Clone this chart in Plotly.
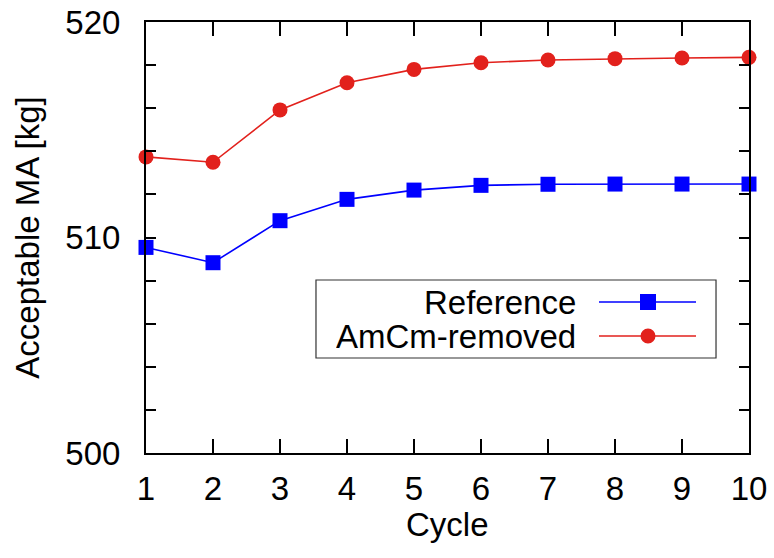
import plotly.graph_objects as go

cycles = [1, 2, 3, 4, 5, 6, 7, 8, 9, 10]
reference = [509.54, 508.83, 510.78, 511.77, 512.20, 512.42, 512.47, 512.48, 512.48, 512.48]
amcm_removed = [513.74, 513.49, 515.92, 517.18, 517.80, 518.11, 518.24, 518.30, 518.33, 518.36]
series_names = ["Reference", "AmCm-removed"]
y_ticks = [500, 510, 520]

BLUE = "#0000ff"
RED = "#e2211c"
FONT = "Liberation Sans, Arial, sans-serif"
FS = 33

fig = go.Figure()
fig.add_trace(go.Scatter(x=cycles, y=reference, mode="lines+markers", name=series_names[0],
                         line=dict(color=BLUE, width=1.6),
                         marker=dict(symbol="square", size=15, color=BLUE),
                         cliponaxis=False, showlegend=False))
fig.add_trace(go.Scatter(x=cycles, y=amcm_removed, mode="lines+markers", name=series_names[1],
                         line=dict(color=RED, width=1.6),
                         marker=dict(symbol="circle", size=15, color=RED),
                         cliponaxis=False, showlegend=False))

# custom legend box (text left of sample, as in the reference)
fig.add_shape(type="rect", xref="paper", yref="paper", x0=0.2819, x1=0.9453, y0=0.2204, y1=0.4014,
              line=dict(color="#333333", width=1.2), fillcolor="white", layer="below")
legend_rows = [(series_names[0], BLUE, "square", 0.3503), (series_names[1], RED, "circle", 0.2715)]
for name, col, sym, yy in legend_rows:
    fig.add_annotation(x=0.7164, y=yy, xref="paper", yref="paper", text=name, showarrow=False,
                       xanchor="right", yanchor="middle", height=30, valign="middle",
                       font=dict(family=FONT, size=FS, color="black"))
    fig.add_shape(type="line", xref="paper", yref="paper", x0=0.7512, x1=0.9121, y0=yy, y1=yy,
                  line=dict(color=col, width=1.6))
    half = 8 if sym == "square" else 7.5
    fig.add_shape(type="rect" if sym == "square" else "circle", xref="paper", yref="paper",
                  xsizemode="pixel", ysizemode="pixel", xanchor=0.8325, yanchor=yy,
                  x0=-half, x1=half, y0=-half, y1=half, fillcolor=col, line=dict(width=0))

# axis titles
fig.add_annotation(x=0.5, y=-0.167, xref="paper", yref="paper", text="Cycle", showarrow=False,
                   xanchor="center", yanchor="middle", font=dict(family=FONT, size=FS, color="black"))
fig.add_annotation(x=-0.197, y=0.5, xref="paper", yref="paper", text="Acceptable MA [kg]", showarrow=False,
                   textangle=-90, xanchor="center", yanchor="middle",
                   font=dict(family=FONT, size=FS, color="black"))

fig.update_layout(
    width=774, height=558,
    margin=dict(l=146, r=25, t=22, b=105),
    paper_bgcolor="white", plot_bgcolor="rgba(0,0,0,0)",
    font=dict(family=FONT, size=FS, color="black"),
    showlegend=False,
    xaxis=dict(range=[1, 10], tickmode="array", tickvals=cycles, ticks="inside", ticklen=14,
               tickwidth=1.5, tickcolor="black", showline=True, linecolor="black", linewidth=2,
               mirror="ticks", showgrid=False, zeroline=False, ticklabelstandoff=5,
               ticklabeloverflow="allow", automargin=False, tickfont=dict(size=FS)),
    yaxis=dict(range=[500, 520], tickmode="array", tickvals=y_ticks, ticks="inside",
               ticklen=10, tickwidth=1.5, tickcolor="black", showline=True, linecolor="black",
               linewidth=2, mirror="ticks", showgrid=False, zeroline=False, ticklabelstandoff=17,
               ticklabeloverflow="allow",
               minor=dict(dtick=2, ticks="inside", ticklen=10, tickwidth=1.5, tickcolor="black", showgrid=False),
               automargin=False, tickfont=dict(size=FS)),
)

# remove the browser's default 8px body margin so the figure fills the window exactly
fig.write_html("out.html", config={"displayModeBar": False},
               post_script="document.body.style.margin='0';")
